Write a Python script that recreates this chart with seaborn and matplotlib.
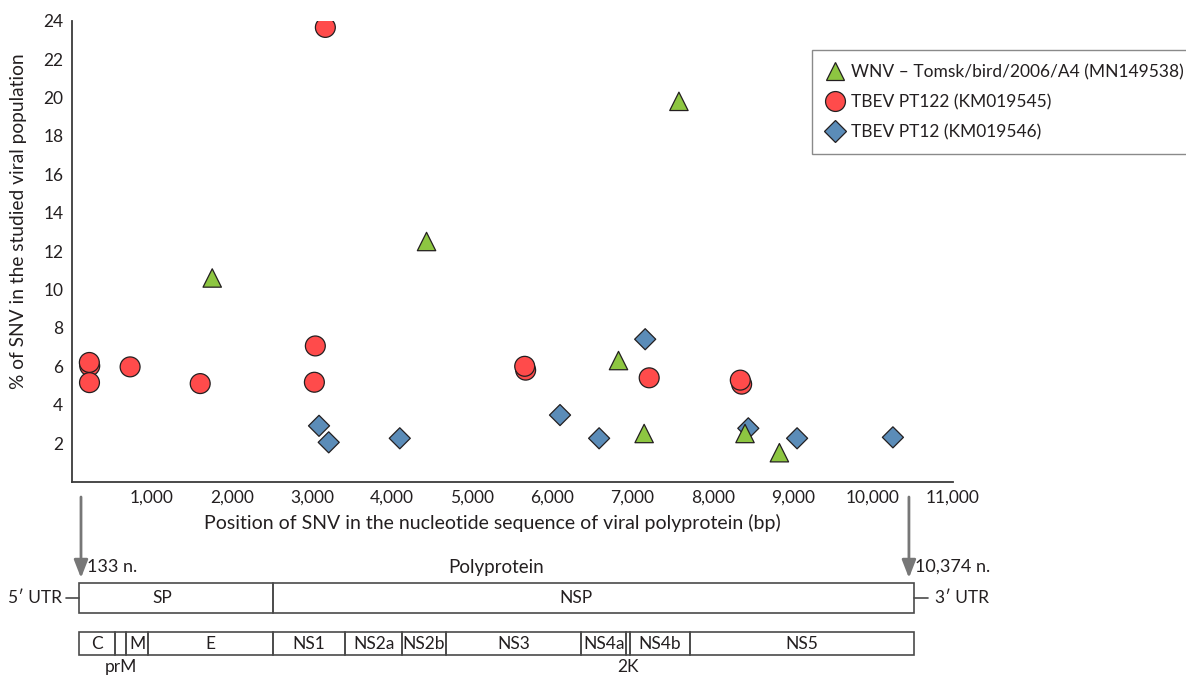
import numpy as np
import pandas as pd
import matplotlib
matplotlib.use("Agg")
import matplotlib.pyplot as plt
import seaborn as sns
from matplotlib.patches import Rectangle

# ---------------- data ----------------
series_names = ["WNV – Tomsk/bird/2006/A4 (MN149538)",
                "TBEV PT122 (KM019545)",
                "TBEV PT12 (KM019546)"]

wnv_pos = [1754, 4429, 7579, 6825, 7145, 8404, 8833]
wnv_pct = [10.6, 12.5, 19.8, 6.3, 2.5, 2.5, 1.5]

pt122_pos = [225, 220, 222, 729, 1604, 3029, 3041, 3166, 5666, 5654, 7208, 8362, 8345]
pt122_pct = [6.02, 6.2, 5.15, 5.97, 5.1, 5.17, 7.06, 23.65, 5.8, 6.0, 5.4, 5.07, 5.28]

pt12_pos = [3087, 3208, 4095, 6095, 6583, 7158, 8445, 9054, 10250]
pt12_pct = [2.9, 2.04, 2.25, 3.46, 2.25, 7.41, 2.77, 2.25, 2.3]

x_ticks = [1000, 2000, 3000, 4000, 5000, 6000, 7000, 8000, 9000, 10000, 11000]
y_ticks = [2, 4, 6, 8, 10, 12, 14, 16, 18, 20, 22, 24]

region_names = ["SP", "NSP"]
region_bounds = [95, 2513, 10508]
gene_names = ["C", "", "M", "E", "NS1", "NS2a", "NS2b", "NS3", "NS4a", "", "NS4b", "NS5"]
gene_bounds = [95, 541, 679, 958, 2513, 3416, 4125, 4666, 6363, 6920, 6970, 7720, 10508]
below_labels = ["prM", "2K"]
below_pos = [614, 6945]
start_nt, end_nt = 133, 10374
arrow_pos = [116, 10450]

# ---------------- style ----------------
sns.set_theme(style="white")
plt.rcParams['font.family'] = ['Lato', 'DejaVu Sans']
TXT = "#231f20"

df = pd.DataFrame({
    "pos": pt122_pos + pt12_pos + wnv_pos,
    "pct": pt122_pct + pt12_pct + wnv_pct,
    "series": [series_names[1]] * len(pt122_pos) + [series_names[2]] * len(pt12_pos)
              + [series_names[0]] * len(wnv_pos),
})

palette = {series_names[0]: "#8dc641", series_names[1]: "#ff4b4b", series_names[2]: "#5b8cb8"}
markers = {series_names[0]: "^", series_names[1]: "o", series_names[2]: "D"}
sizes = {series_names[0]: 175, series_names[1]: 205, series_names[2]: 115}

fig = plt.figure(figsize=(11.86, 6.75), dpi=100)
W, H = 1186, 675
ax = fig.add_axes([71.7 / W, 1 - 481.5 / H, (953 - 71.7) / W, (481.5 - 20.7) / H])

sns.scatterplot(data=df, x="pos", y="pct", hue="series", style="series", size="series",
                hue_order=series_names, style_order=series_names, size_order=series_names,
                palette=palette, markers=markers, sizes=sizes,
                edgecolor=TXT, linewidth=0.9, alpha=1, ax=ax, legend="full", zorder=3)

ax.set_xlim(0, 11000)
ax.set_ylim(0, 24)
ax.set_xticks(x_ticks)
ax.set_xticklabels([f"{v:,}" for v in x_ticks])
ax.set_yticks(y_ticks)
ax.set_yticklabels([str(v) for v in y_ticks])
for s in ["top", "right"]:
    ax.spines[s].set_visible(False)
for s in ["left", "bottom"]:
    ax.spines[s].set_color("#3a3a3a")
    ax.spines[s].set_linewidth(1.3)
ax.tick_params(axis="both", direction="in", length=5, width=1, color="#3a3a3a",
               labelsize=12.5, labelcolor=TXT, pad=6)
ax.set_xlabel("")
ax.set_ylabel("")
fig.text(492 / W, 1 - 523 / H, "Position of SNV in the nucleotide sequence of viral polyprotein (bp)",
         ha="center", va="center", fontsize=14, color=TXT)
fig.text(19 / W, 1 - 221 / H, "% of SNV in the studied viral population",
         ha="center", va="center", rotation=90, fontsize=13.8, color=TXT)

handles, labels = ax.get_legend_handles_labels()
ax.legend(handles, labels, loc="upper left", bbox_to_anchor=(812 / W, 1 - 50 / H),
          bbox_transform=fig.transFigure, frameon=True, fancybox=False, fontsize=12.5,
          edgecolor="#8a8a8a", borderpad=0.8, labelspacing=0.8, handlelength=1.0,
          handletextpad=0.45, borderaxespad=0, framealpha=1)
ax.get_legend().get_frame().set_linewidth(1.0)
for t in ax.get_legend().get_texts():
    t.set_color(TXT)

# ---------------- genome diagram ----------------
dax = fig.add_axes([71.7 / W, 0, (953 - 71.7) / W, 190 / H])
dax.set_xlim(0, 11000)
dax.set_ylim(675, 485)
dax.axis("off")
LC = "#4a4a4a"
FS = 12.5

for i, name in enumerate(region_names):
    a, b = region_bounds[i], region_bounds[i + 1]
    dax.add_patch(Rectangle((a, 583), b - a, 29.5, facecolor="none", edgecolor=LC, lw=1.2))
    dax.text((a + b) / 2 - (170 if i == 0 else 219), 598, name, ha="center", va="center",
             fontsize=FS, color=TXT)

for i, name in enumerate(gene_names):
    a, b = gene_bounds[i], gene_bounds[i + 1]
    dax.add_patch(Rectangle((a, 632), b - a, 23, facecolor="none", edgecolor=LC, lw=1.2))
    if name:
        dax.text((a + b) / 2, 644, name, ha="center", va="center", fontsize=FS, color=TXT)
for name, p in zip(below_labels, below_pos):
    dax.text(p, 667, name, ha="center", va="center", fontsize=FS, color=TXT)

# UTR labels
dax.plot([region_bounds[0] - 160, region_bounds[0]], [598, 598], color=LC, lw=1.2, clip_on=False)
dax.text(region_bounds[0] - 210, 598, "5\u2032 UTR", ha="right", va="center", fontsize=FS,
         color=TXT, clip_on=False)
dax.plot([region_bounds[-1], region_bounds[-1] + 180], [598, 598], color=LC, lw=1.2, clip_on=False)
dax.text(region_bounds[-1] + 265, 598, "3\u2032 UTR", ha="left", va="center", fontsize=FS,
         color=TXT, clip_on=False)

# arrows and labels
for xp in arrow_pos:
    dax.annotate("", xy=(xp, 578), xytext=(xp, 497),
                 arrowprops=dict(arrowstyle="-|>,head_length=0.9,head_width=0.35",
                                 color="#777777", lw=2.0, shrinkA=0, shrinkB=0))
dax.text(arrow_pos[0] + 80, 567, f"{start_nt} n.", ha="left", va="center", fontsize=13, color=TXT)
dax.text(arrow_pos[1] + 80, 567, f"{end_nt:,} n.", ha="left", va="center", fontsize=13, color=TXT)
dax.text((region_bounds[0] + region_bounds[-1]) / 2, 567, "Polyprotein",
         ha="center", va="center", fontsize=13.5, color=TXT)

fig.savefig("out.png", dpi=100, facecolor="white")
